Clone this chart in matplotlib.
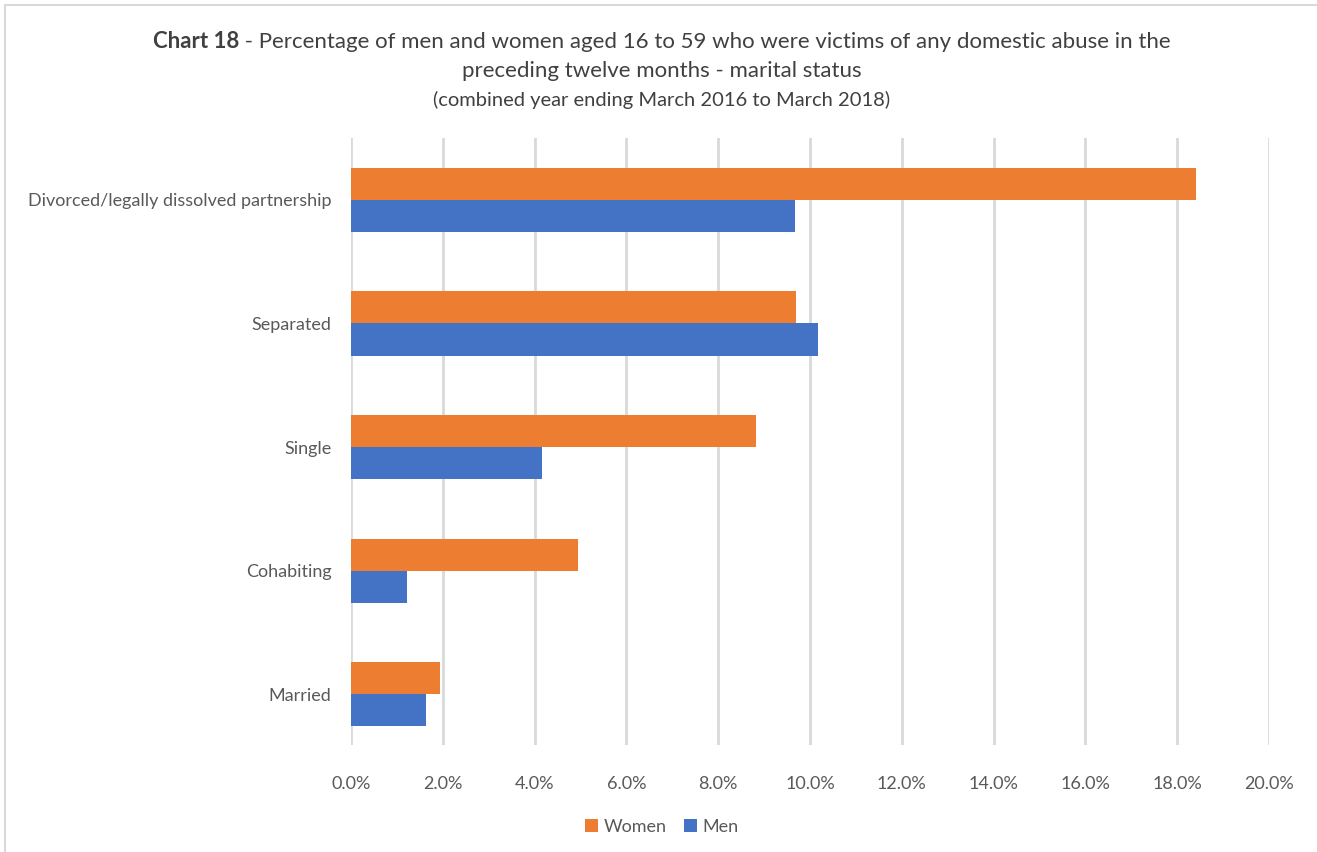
import matplotlib
matplotlib.use("Agg")
import matplotlib.pyplot as plt
from matplotlib.patches import Rectangle

categories = ["Married", "Cohabiting", "Single", "Separated",
              "Divorced/legally dissolved partnership"]
women = [1.94, 4.95, 8.82, 9.7, 18.4]
men = [1.63, 1.22, 4.16, 10.17, 9.67]
xticks = [0, 2, 4, 6, 8, 10, 12, 14, 16, 18, 20]
xticklabels = ["0.0%", "2.0%", "4.0%", "6.0%", "8.0%", "10.0%", "12.0%",
               "14.0%", "16.0%", "18.0%", "20.0%"]

W, H = 1317, 852
fig = plt.figure(figsize=(W / 100, H / 100), dpi=100)
plt.rcParams['font.family'] = ['Lato', 'DejaVu Sans']

# outer frame
fig.patches.append(Rectangle((5 / W, -0.1), 2, (H - 5) / H + 0.1,
                             transform=fig.transFigure, fill=False,
                             edgecolor="#D9D9D9", linewidth=1.5))

ax = fig.add_axes([351 / W, (H - 745) / H, (1269 - 351) / W, (745 - 138) / H])
pos = list(range(len(categories)))
h = 0.26
ax.barh([p + h / 2 for p in pos], women, height=h, color="#ED7D31", label="Women")
ax.barh([p - h / 2 for p in pos], men, height=h, color="#4472C4", label="Men")

ax.set_xlim(0, 20)
ax.set_ylim(-0.41, 4.5)
ax.set_xticks(xticks)
ax.set_xticklabels(xticklabels)
ax.set_yticks(pos)
ax.set_yticklabels(categories)
ax.tick_params(axis="both", length=0, labelsize=13, labelcolor="#595959")
ax.tick_params(axis="x", pad=22)
ax.tick_params(axis="y", pad=14)
for s in ax.spines.values():
    s.set_visible(False)
ax.grid(axis="x", color="#D9D9D9", linewidth=2)
ax.set_axisbelow(True)

# Title
fig.canvas.draw()
r = fig.canvas.get_renderer()
y1 = 1 - 42 / H
t_bold = fig.text(0, y1, "Chart 18", fontsize=16, fontweight="bold",
                  color="#404040", va="center", ha="left")
t_rest = fig.text(0, y1, " - Percentage of men and women aged 16 to 59 who were victims of any domestic abuse in the",
                  fontsize=16, color="#404040", va="center", ha="left")
wb = t_bold.get_window_extent(r).width
wr = t_rest.get_window_extent(r).width
x0 = 662 - (wb + wr) / 2
t_bold.set_x(x0 / W)
t_rest.set_x((x0 + wb) / W)
fig.text(662 / W, 1 - 71 / H, "preceding twelve months - marital status",
         fontsize=16, color="#404040", va="center", ha="center")
fig.text(662 / W, 1 - 100 / H, "(combined year ending March 2016 to March 2018)",
         fontsize=14.5, color="#404040", va="center", ha="center")

leg = fig.legend(loc="center", bbox_to_anchor=(662 / W, 1 - 827 / H), ncol=2,
                 frameon=False, fontsize=13, handlelength=0.7, handleheight=0.7,
                 handletextpad=0.3, columnspacing=1.0)
for t in leg.get_texts():
    t.set_color("#595959")

fig.savefig("out.png", dpi=100)
